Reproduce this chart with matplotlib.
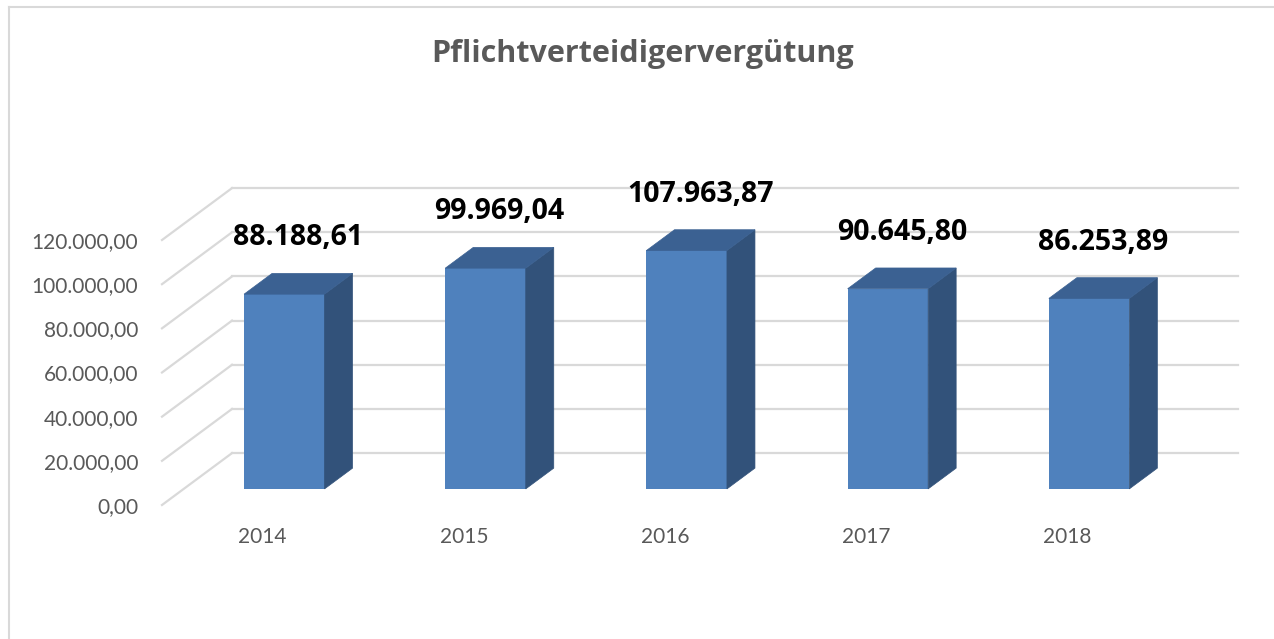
import matplotlib
matplotlib.use("Agg")
import matplotlib.pyplot as plt
from matplotlib.patches import Polygon
from matplotlib.lines import Line2D

years = ["2014", "2015", "2016", "2017", "2018"]
values = [88188.61, 99969.04, 107963.87, 90645.80, 86253.89]
labels = ["88.188,61", "99.969,04", "107.963,87", "90.645,80", "86.253,89"]
yticks = [0, 20000, 40000, 60000, 80000, 100000, 120000]
ytick_labels = ["0,00", "20.000,00", "40.000,00", "60.000,00",
                "80.000,00", "100.000,00", "120.000,00"]

plt.rcParams['font.family'] = ['Lato', 'DejaVu Sans']

# oblique "3d" look: full depth shift in data units (x in categories, y in values)
DX, DY = 0.348, 23500
D_FRONT, D_BACK = 0.31, 0.71   # bar front / back depth
BAR_W = 0.4
GRID = "#D9D9D9"
FRONT, SIDE, TOP = "#4F81BD", "#32527A", "#3B6192"

W, H = 1274, 639
fig = plt.figure(figsize=(W / 100, H / 100), dpi=100)
ax = fig.add_axes([162 / W, (H - 505) / H, (1168 - 162) / W, (505 - 240) / H])
ax.set_xlim(-0.5, 4.5)
ax.set_ylim(0, 120000)

# chart border (top + left only visible)
fig.add_artist(Line2D([8.5 / W, 8.5 / W], [0, 1 - 6.5 / H], color=GRID, lw=1.5))
fig.add_artist(Line2D([8.5 / W, 1], [1 - 6.5 / H, 1 - 6.5 / H], color=GRID, lw=1.5))

# back wall and side wall gridlines
for v in yticks:
    ax.plot([-0.5 + DX, 4.5 + DX], [v + DY, v + DY], color=GRID, lw=1.6,
            clip_on=False, zorder=1)
    ax.plot([-0.5, -0.5 + DX], [v, v + DY], color=GRID, lw=1.6,
            clip_on=False, zorder=1)

xs = list(range(len(years)))
fx = [x + D_FRONT * DX for x in xs]
ax.bar(fx, values, width=BAR_W, bottom=D_FRONT * DY, color=FRONT,
       zorder=3, clip_on=False)

dd = D_BACK - D_FRONT
for x, v in zip(fx, values):
    r = x + BAR_W / 2
    l = x - BAR_W / 2
    b = D_FRONT * DY
    t = b + v
    side = [(r, b), (r + dd * DX, b + dd * DY), (r + dd * DX, t + dd * DY), (r, t)]
    top = [(l, t), (r, t), (r + dd * DX, t + dd * DY), (l + dd * DX, t + dd * DY)]
    ax.add_patch(Polygon(side, closed=True, facecolor=SIDE, edgecolor=SIDE,
                         lw=0.5, zorder=3, clip_on=False))
    ax.add_patch(Polygon(top, closed=True, facecolor=TOP, edgecolor=TOP,
                         lw=0.5, zorder=3, clip_on=False))

# data labels over the middle of each bar top
dm = (D_FRONT + D_BACK) / 2
for x, v, lab in zip(xs, values, labels):
    ax.annotate(lab, (x + dm * DX, v + dm * DY), xytext=(0, 33),
                textcoords="offset points", ha="center", va="center",
                fontsize=20.5, fontweight="bold", color="black", zorder=5,
                annotation_clip=False, family=["Open Sans", "DejaVu Sans"])

ax.set_yticks(yticks)
ax.set_yticklabels(ytick_labels)
ax.set_xticks(xs)
ax.set_xticklabels(years)
ax.tick_params(axis="both", length=0, labelsize=15, labelcolor="#595959")
ax.tick_params(axis="y", pad=17)
ax.tick_params(axis="x", pad=16)
for s in ax.spines.values():
    s.set_visible(False)
ax.patch.set_visible(False)

fig.text(643 / W, 1 - 54 / H, "Pflichtverteidigervergütung", ha="center",
         va="center", fontsize=22, fontweight="bold", color="#595959",
         family=["Open Sans", "DejaVu Sans"])

fig.savefig("out.png", dpi=100)
